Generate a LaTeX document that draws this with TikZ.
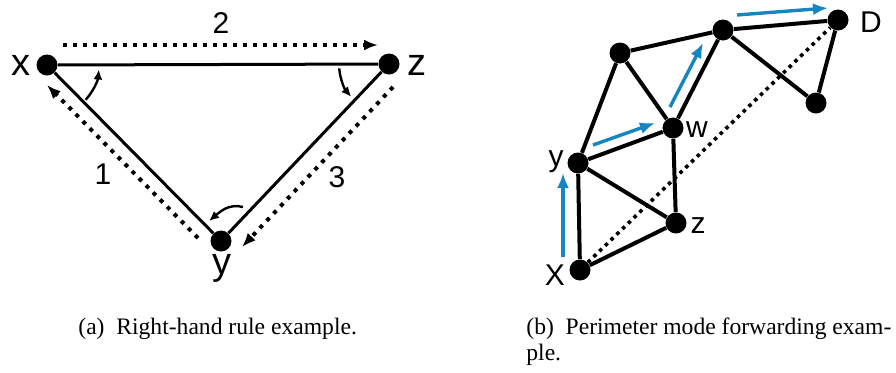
\documentclass[tikz,border=0pt]{standalone}
\usepackage{fontspec}
\setmainfont{Liberation Serif}
\newfontfamily\etiq{Liberation Sans}
\usetikzlibrary{arrows.meta}
\definecolor{azul}{RGB}{22,134,192}
\tikzset{
  vertice/.style={circle, fill=black, inner sep=0pt, minimum size=10.5pt},
  verticeb/.style={circle, fill=black, inner sep=0pt, minimum size=10.5pt},
  arista/.style={line width=1.5pt},
  aristab/.style={line width=2pt},
  recorrido/.style={line width=2pt, dash pattern=on 2pt off 3pt, -{Latex[length=7pt,width=5.5pt]}},
  giro/.style={line width=1.2pt, -{Latex[length=5pt,width=4.5pt]}},
  avance/.style={azul, line width=1.7pt, -{Latex[length=7.5pt,width=6pt]}},
  letra/.style={font=\etiq\fontsize{19}{19}\selectfont, inner sep=0pt},
  cifra/.style={font=\etiq\fontsize{15}{15}\selectfont, inner sep=0pt},
  letrab/.style={font=\etiq\fontsize{15}{15}\selectfont, inner sep=0pt},
  pie/.style={font=\fontsize{11.8}{13}\selectfont, inner sep=0pt, anchor=base west, align=left}
}
\begin{document}
\begin{tikzpicture}[x=0.5pt,y=0.5pt]
  \useasboundingbox (0,0) rectangle (896,372);

  % (a) Regla de la mano derecha
  \node[vertice] (x) at (47,307) {};
  \node[vertice] (z) at (389,308) {};
  \node[vertice] (y) at (221,131) {};
  \draw[arista] (x) -- (z) -- (y) -- (x);

  \node[letra] (lx) at (21,307) {x};
  \node[letra] (lz) at (417,307) {z};
  \node[letra] (ly) at (222,104) {y};
  \node[cifra] (n2) at (221,349) {2};
  \node[cifra] (n1) at (103,198) {1};
  \node[cifra] (n3) at (337,195) {3};

  % recorrido punteado
  \coordinate (a1) at (63,327);
  \coordinate (a2) at (378,327);
  \coordinate (b1) at (198,134);
  \coordinate (b2) at (47,287);
  \coordinate (c1) at (393,285);
  \coordinate (c2) at (242,125);
  \draw[recorrido] (b1) -- (b2);
  \draw[recorrido] (a1) -- (a2);
  \draw[recorrido] (c1) -- (c2);

  % giros en cada nodo
  \draw[giro] ([shift={(-42:52)}]x.center) arc[start angle=-42, end angle=-5, radius=52];
  \draw[giro] ([shift={(185:50)}]z.center) arc[start angle=185, end angle=221, radius=50];
  \coordinate (g1) at (243,165);
  \coordinate (g2) at (209,151);
  \draw[giro] (g1) to[out=165, in=40] (g2);

  % (b) Reenvio en modo perimetro
  \node[verticeb] (D) at (838,352) {};
  \node[verticeb] (T) at (723,342) {};
  \node[verticeb] (U) at (620,319) {};
  \node[verticeb] (R) at (816,269) {};
  \node[verticeb] (w) at (673,244) {};
  \node[verticeb] (yb) at (578,209) {};
  \node[verticeb] (zb) at (676,149) {};
  \node[verticeb] (X) at (580,102) {};
  \draw[aristab] (X) -- (yb) -- (zb) -- (X);
  \draw[aristab] (yb) -- (w) -- (zb);
  \draw[aristab] (yb) -- (U) -- (w) -- (T) -- (U);
  \draw[aristab] (T) -- (D) -- (R) -- (T);
  \draw[line width=1.8pt, dash pattern=on 1.8pt off 2.2pt] (X) -- (D);

  \node[letrab] (lD) at (871,350) {D};
  \node[letrab] (lw) at (697,242) {w};
  \node[letrab] (ly2) at (556,210) {y};
  \node[letrab] (lz2) at (698,146) {z};
  \node[letrab] (lX) at (555,97) {X};

  % flechas azules
  \coordinate (p1) at (563,115);
  \coordinate (q1) at (563,199);
  \coordinate (p2) at (593,227);
  \coordinate (q2) at (655,249);
  \coordinate (p3) at (670,265);
  \coordinate (q3) at (703,329);
  \coordinate (p4) at (737,357);
  \coordinate (q4) at (828,364);
  \draw[avance] (p1) -- (q1);
  \draw[avance] (p2) -- (q2);
  \draw[avance] (p3) -- (q3);
  \draw[avance] (p4) -- (q4);

  % pies de figura
  \node[pie] (capa) at (78,38) {(a)\ \ Right-hand rule example.};
  \node[pie] (capb) at (526,12) {(b)\ \ Perimeter mode forwarding exam-\\ple.};
\end{tikzpicture}
\end{document}
